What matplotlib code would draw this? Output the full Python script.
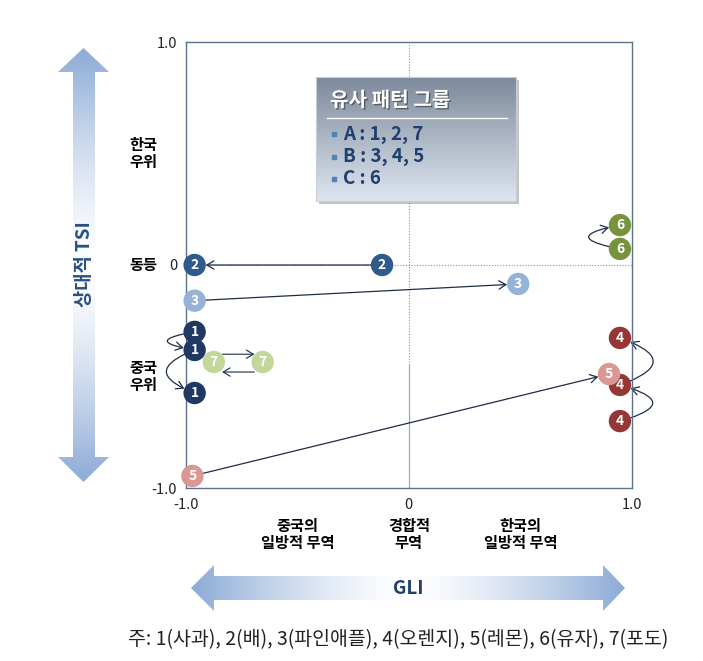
import numpy as np
import matplotlib.pyplot as plt
import matplotlib.patheffects as pe
from matplotlib.patches import Polygon, Rectangle, FancyArrowPatch
import matplotlib.transforms as mtransforms

plt.rcParams['font.family'] = ['Noto Sans CJK KR', 'DejaVu Sans']

# 품목별 위치 (GLI, 상대적 TSI)
item_no = [1, 1, 1, 2, 2, 3, 3, 4, 4, 4, 5, 5, 6, 6, 7, 7]
gli = [-0.96, -0.96, -0.96, -0.96, -0.12, -0.96, 0.49, 0.946, 0.946, 0.946,
       -0.97, 0.897, 0.946, 0.946, -0.874, -0.655]
tsi = [-0.30, -0.381, -0.574, 0.0, 0.0, -0.16, -0.085, -0.327, -0.538, -0.70,
       -0.946, -0.489, 0.179, 0.072, -0.435, -0.435]

# 이동 (시작 인덱스, 끝 인덱스, 곡률)
move_from = [0, 1, 4, 5, 9, 8, 10, 13]
move_to = [1, 2, 3, 6, 8, 7, 11, 12]
move_rad = [3.0, 1.3, 0.0, 0.0, 1.8, 1.4, 0.0, -2.6]

item_colors = {1: '#1f3864', 2: '#2e5a8c', 3: '#95b3d7', 4: '#953735',
               5: '#d99795', 6: '#77933c', 7: '#c3d69b'}

x_ticks = [-1.0, 0, 1.0]
x_ticklabels = ['-1.0', '0', '1.0']
y_ticks = [-1.0, 0, 1.0]
y_ticklabels = ['-1.0', '0', '1.0']

x_cat_pos = [-0.5, 0, 0.5]
x_cat_labels = ['중국의\n일방적 무역', '경합적\n무역', '한국의\n일방적 무역']
y_cat_pos = [0.5, 0, -0.5]
y_cat_labels = ['한국\n우위', '동등', '중국\n우위']

legend_title = '유사 패턴 그룹'
legend_items = ['A : 1, 2, 7', 'B : 3, 4, 5', 'C : 6']
footnote = '주: 1(사과), 2(배), 3(파인애플), 4(오렌지), 5(레몬), 6(유자), 7(포도)'

W, H = 703, 661
fig = plt.figure(figsize=(W / 100, H / 100), dpi=100)
ax = fig.add_axes([185.7 / W, 1 - 488 / H, 446.3 / W, 446 / H])
ax.set_xlim(-1, 1)
ax.set_ylim(-1, 1)
for s in ax.spines.values():
    s.set_color('#5d7290')
    s.set_linewidth(1.0)
ax.set_xticks(x_ticks)
ax.set_xticklabels(x_ticklabels)
ax.set_yticks(y_ticks)
ax.set_yticklabels(y_ticklabels)
ax.tick_params(length=0, labelsize=10.5, colors='#222222')
ax.tick_params(axis='y', pad=6)
ax.tick_params(axis='x', pad=7)

# 기준선
ax.axhline(0, color='#8796ab', lw=0.8, ls=(0, (1, 1.5)), zorder=1)
ax.plot([0, 0], [-0.45, 1], color='#8796ab', lw=0.8, ls=(0, (1, 1.5)), zorder=1)
ax.plot([0, 0], [-1, -0.45], color='#a0a8b4', lw=0.9, zorder=1)

# 이동 화살표
for a, b, r in zip(move_from, move_to, move_rad):
    arr = FancyArrowPatch((gli[a], tsi[a]), (gli[b], tsi[b]),
                          connectionstyle=f'arc3,rad={r}',
                          arrowstyle='->,head_length=0.5,head_width=0.3',
                          mutation_scale=10, color='#1f2d4a', lw=0.9,
                          shrinkA=8, shrinkB=8, zorder=2, clip_on=False)
    ax.add_patch(arr)

# 포도(7): 왕복 이동
ax.annotate('', xy=(gli[15], tsi[15] + 0.035), xytext=(gli[14], tsi[14] + 0.035),
            arrowprops=dict(arrowstyle='->,head_length=0.5,head_width=0.3',
                            mutation_scale=10, color='#1f2d4a', lw=0.8,
                            shrinkA=6, shrinkB=6), zorder=2)
ax.annotate('', xy=(gli[14], tsi[14] - 0.045), xytext=(gli[15], tsi[15] - 0.045),
            arrowprops=dict(arrowstyle='->,head_length=0.5,head_width=0.3',
                            mutation_scale=10, color='#1f2d4a', lw=0.8,
                            shrinkA=6, shrinkB=6), zorder=2)

# 원형 표시
for n, x, y in zip(item_no, gli, tsi):
    ax.scatter(x, y, s=260, color=item_colors[n], edgecolors='none', zorder=3,
               clip_on=False)
    ax.text(x, y, str(n), color='white', fontsize=10, fontweight='bold',
            ha='center', va='center', zorder=4)

# 범주 라벨
ty = mtransforms.blended_transform_factory(ax.transAxes, ax.transData)
for p, lab in zip(y_cat_pos, y_cat_labels):
    ax.text(-0.095, p, lab, transform=ty, ha='center', va='center',
            fontsize=11, fontweight='bold', linespacing=1.1)
tx = mtransforms.blended_transform_factory(ax.transData, ax.transAxes)
for p, lab in zip(x_cat_pos, x_cat_labels):
    ax.text(p, -0.105, lab, transform=tx, ha='center', va='center',
            fontsize=11, fontweight='bold', linespacing=1.1)

# 장식용 오버레이 (픽셀 좌표)
ov = fig.add_axes([0, 0, 1, 1], zorder=5)
ov.axis('off')


def grad_arrow(poly, extent, horizontal):
    t = np.linspace(-1, 1, 256)
    w = np.abs(t) ** 1.4
    blue = np.array([0.55, 0.67, 0.84])
    rgb = (1 - w)[:, None] + w[:, None] * blue
    img = rgb[None, :, :] if horizontal else rgb[:, None, :]
    im = ov.imshow(img, extent=extent, aspect='auto', zorder=1)
    patch = Polygon(poly, closed=True, transform=ov.transData,
                    facecolor='none', edgecolor='none')
    ov.add_patch(patch)
    im.set_clip_path(patch)


grad_arrow([(83.5, 48), (58, 72), (73, 72), (73, 457), (58, 457), (83.5, 482),
            (109, 457), (95, 457), (95, 72), (109, 72)],
           (58, 109, 482, 48), False)
grad_arrow([(191, 588), (214, 565), (214, 576), (603, 576), (603, 565), (625, 588),
            (603, 611), (603, 600), (214, 600), (214, 611)],
           (191, 625, 611, 565), True)
ov.text(84, 264, '상대적 TSI', rotation=90, ha='center', va='center',
        fontsize=13.5, fontweight='bold', color='#2a4f82', zorder=3)
ov.text(408, 588, 'GLI', ha='center', va='center',
        fontsize=13.5, fontweight='bold', color='#1f3f6e', zorder=3)

# 범례 상자
ov.add_patch(Rectangle((319, 80), 200, 124, facecolor='#555555', alpha=0.35,
                       edgecolor='none', zorder=1))
bx0, bx1, by0, by1 = 316, 516, 77, 201
t = np.linspace(0, 1, 256)
top_c = np.array([0.49, 0.54, 0.61])
bot_c = np.array([0.87, 0.90, 0.94])
box_img = (1 - t)[:, None] * top_c + t[:, None] * bot_c
ov.imshow(box_img[:, None, :], extent=(bx0, bx1, by1, by0), aspect='auto', zorder=2)
ov.add_patch(Rectangle((bx0, by0), bx1 - bx0, by1 - by0, facecolor='none',
                       edgecolor='#c8ced6', lw=0.8, zorder=3))
ov.text(330, 100, legend_title, ha='left', va='center', fontsize=14.5,
        fontweight='bold', color='white', zorder=4,
        path_effects=[pe.SimplePatchShadow(offset=(1, -1), shadow_rgbFace='#333333',
                                           alpha=0.6), pe.Normal()])
ov.plot([327, 507], [118, 118], color='white', lw=1.0, zorder=4)
for i, item in enumerate(legend_items):
    yy = 134 + i * 22.5
    ov.plot(334, yy, marker='s', ms=3.5, color='#4f81bd', zorder=4)
    ov.text(343, yy, item, ha='left', va='center', fontsize=13.5,
            fontweight='bold', color='#1f3f6e', zorder=4)

ov.text(398, 640, footnote, ha='center', va='center', fontsize=14, color='#222222')

ov.set_xlim(0, W)
ov.set_ylim(H, 0)

fig.savefig('out.png', dpi=100)
